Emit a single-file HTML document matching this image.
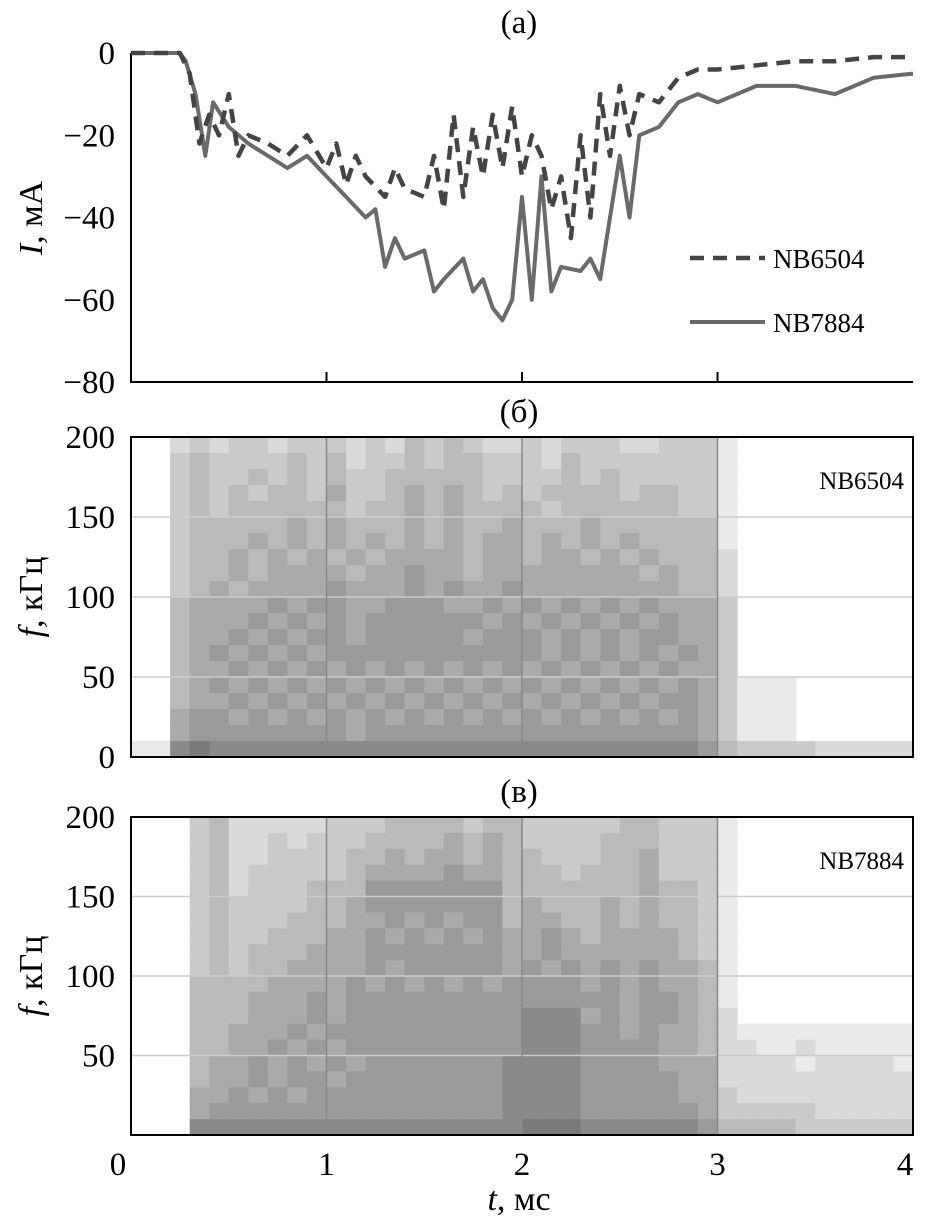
<!DOCTYPE html>
<html><head><meta charset="utf-8"><style>
html,body{margin:0;padding:0;background:#fff;}
svg{display:block;font-family:"Liberation Serif",serif;}
</style></head><body>
<svg id="c" width="928" height="1228" viewBox="0 0 928 1228"></svg>
<script>
const times=[0,0.25,0.3,0.35,0.4,0.45,0.5,0.55,0.6,0.7,0.8,0.9,1.0,1.05,1.1,1.15,1.2,1.3,1.35,1.4,1.5,1.55,1.6,1.65,1.7,1.75,1.8,1.85,1.9,1.95,2.0,2.05,2.1,2.15,2.2,2.25,2.3,2.35,2.4,2.45,2.5,2.55,2.6,2.7,2.8,2.9,3.0,3.2,3.4,3.6,3.8,4.0];
const nb6504=[0,0,-5,-22,-15,-20,-10,-25,-20,-22,-25,-20,-28,-22,-32,-25,-30,-35,-28,-33,-35,-25,-38,-15,-35,-18,-30,-15,-28,-13,-30,-20,-25,-38,-30,-45,-20,-40,-10,-25,-8,-20,-10,-12,-6,-4,-4,-3,-2,-2,-1,-1];
const times2=[0,0.25,0.28,0.33,0.38,0.42,0.5,0.6,0.7,0.8,0.9,1.0,1.1,1.2,1.25,1.3,1.35,1.4,1.5,1.55,1.6,1.7,1.75,1.8,1.85,1.9,1.95,2.0,2.05,2.1,2.15,2.2,2.3,2.35,2.4,2.45,2.5,2.55,2.6,2.7,2.8,2.9,3.0,3.2,3.4,3.6,3.8,4.0];
const nb7884=[0,0,-2,-10,-25,-12,-18,-22,-25,-28,-25,-30,-35,-40,-38,-52,-45,-50,-48,-58,-55,-50,-58,-55,-62,-65,-60,-35,-60,-30,-58,-52,-53,-50,-55,-40,-25,-40,-20,-18,-12,-10,-12,-8,-8,-10,-6,-5];
const yTicksA=[0,-20,-40,-60,-80];
const yTicksF=[200,150,100,50,0];
const xTicks=[0,1,2,3,4];
const specB=[
"0023233233323243432232333223331000000000",
"0034333343423343443332433333331000000000",
"0034334343433444443333434333331000000000",
"0034343443533454543434444344331000000000",
"0034344444434454544443444444331000000000",
"0034444454544454544544454444441000000000",
"0034445454545454545545454544441000000000",
"0034454545454555545545545454442000000000",
"0034454555545565545555555545442000000000",
"0034545555655565655655555555442000000000",
"0045555656655666556565656565553000000000",
"0045556565656666665656565656553000000000",
"0045565656656666656665656566553000000000",
"0045656565666666666665656565653000000000",
"0045565656565656565656565656553000000000",
"0045656565656565656565656565653111000000",
"0045565656565656565656565656653111000000",
"0056656565656565656565656565653111000000",
"0056666666656666666666666666653111000000",
"1178777777777777777777777777764333322222"];
const specC=[
"0003422222333444434433333443331000000000",
"0003422323334444545433334443331000000000",
"0003422333344545545443334453331000000000",
"0003423333345555655444344453331000000000",
"0003423334446666666444444454431000000000",
"0003433334456666666454445454431000000000",
"0003433344455656566455445454431000000000",
"0003433444556565656556545555431000000000",
"0003434445556666666556555555431000000000",
"0003434455556566666565656565541000000000",
"0004444555565656565666656565541000000000",
"0004445556566666666666666566541000000000",
"0004445556566666666677756566542000000000",
"0004455565666666666677766565542111111111",
"0004455656566666666677766665542211211111",
"0004556565656666666777766665552222122221",
"0004556566566666666777766666552222222222",
"0005565656666666666777766666553222222222",
"0005666666666666666777766666653333322222",
"0007777777777777777788877777764444333333"];
const NS='http://www.w3.org/2000/svg';
const svg=document.getElementById('c');
function mk(tag,at,parent){const e=document.createElementNS(NS,tag);for(const k in at)e.setAttribute(k,at[k]);(parent||svg).appendChild(e);return e;}
const X0=131,X1=913;
const sx=t=>X0+t*(X1-X0)/4;
const yA=v=>53-v*(329/80);
const yB=f=>757-f*1.6;
const yC=f=>1135-f*1.59;

let t1=mk('text',{x:519,y:33,'font-size':33,'text-anchor':'middle'});t1.textContent='(а)';


let ax=mk('path',{d:`M${X0} 53V382H${X1}`,stroke:'#000','stroke-width':2,fill:'none'});


[1,2,3].forEach(t=>{let e=mk('line',{x1:sx(t),x2:sx(t),y1:382,y2:372,stroke:'#000','stroke-width':2});

});
yTicksA.forEach(v=>{let e=mk('text',{x:115,y:yA(v)+11,'font-size':33,'text-anchor':'end'});e.textContent=v===0?'0':'\u2212'+Math.abs(v);

});
let ytA=mk('text',{transform:'translate(42,218) rotate(-90)','font-size':34,'text-anchor':'middle'});
ytA.innerHTML='<tspan font-style="italic">I</tspan>, мА';


function line(ts,vs,attrs,name){let d=ts.map((t,i)=>(i?'L':'M')+sx(t).toFixed(1)+' '+yA(vs[i]).toFixed(1)).join('');
let p=mk('path',Object.assign({d,fill:'none','stroke-linejoin':'round'},attrs));

}
line(times2,nb7884,{stroke:'#6a6a6a','stroke-width':4},'series-nb7884');
line(times,nb6504,{stroke:'#444','stroke-width':4.5,'stroke-dasharray':'14 9'},'series-nb6504');
let l1=mk('line',{x1:690,x2:765,y1:258,y2:258,stroke:'#444','stroke-width':4.5,'stroke-dasharray':'14 9'});


let lt1=mk('text',{x:773,y:268,'font-size':27});lt1.textContent='NB6504';


let l2=mk('line',{x1:690,x2:765,y1:322,y2:322,stroke:'#6a6a6a','stroke-width':4});


let lt2=mk('text',{x:773,y:332,'font-size':27});lt2.textContent='NB7884';



function spec(rows,yf,top,bot,label,title,titleY,showZero,pname){
  let tt=mk('text',{x:519,y:titleY,'font-size':33,'text-anchor':'middle'});tt.textContent=title;
  
  
  const nr=rows.length,nc=rows[0].length;
  rows.forEach((r,i)=>{for(let j=0;j<nc;j++){const v=+r[j];if(!v)continue;
    const g=Math.round(250-v*16);
    const fHi=200-i*200/nr,fLo=200-(i+1)*200/nr;
    let c=mk('rect',{x:sx(j*4/nc).toFixed(1),y:yf(fHi).toFixed(1),width:(sx(4/nc)-sx(0)+0.6).toFixed(1),height:(yf(fLo)-yf(fHi)+0.6).toFixed(1),fill:`rgb(${g},${g},${g})`});
    
    }});
  [50,100,150].forEach(f=>{let e=mk('line',{x1:X0,x2:X1,y1:yf(f),y2:yf(f),stroke:'#ccc','stroke-width':1.5});
    
    });
  [1,2,3].forEach(t=>{let e=mk('line',{x1:sx(t),x2:sx(t),y1:top,y2:bot,stroke:'#888','stroke-width':1.5});
    
    });
  let fr=mk('rect',{x:X0,y:top,width:X1-X0,height:bot-top,fill:'none',stroke:'#000','stroke-width':2});
  
  
  yTicksF.forEach(f=>{if(f===0&&!showZero)return;let e=mk('text',{x:115,y:yf(f)+11,'font-size':33,'text-anchor':'end'});e.textContent=f;
    
    });
  let lb=mk('text',{x:904,y:top+52,'font-size':25,'text-anchor':'end'});lb.textContent=label;
  
  
  let yt=mk('text',{transform:`translate(42,${(top+bot)/2}) rotate(-90)`,'font-size':34,'text-anchor':'middle'});
  yt.innerHTML='<tspan font-style="italic">f</tspan>, кГц';
  
  
}
spec(specB,yB,437,757,'NB6504','(б)',422,true,'panel-b');
spec(specC,yC,817,1135,'NB7884','(в)',802,false,'panel-c');
xTicks.forEach(t=>{let x=t===0?118:(t===4?905:sx(t));let e=mk('text',{x,y:1175,'font-size':33,'text-anchor':'middle'});e.textContent=t;
  
  });
let xt=mk('text',{x:519,y:1210,'font-size':34,'text-anchor':'middle'});
xt.innerHTML='<tspan font-style="italic">t</tspan>, мс';


</script>
</body></html>
